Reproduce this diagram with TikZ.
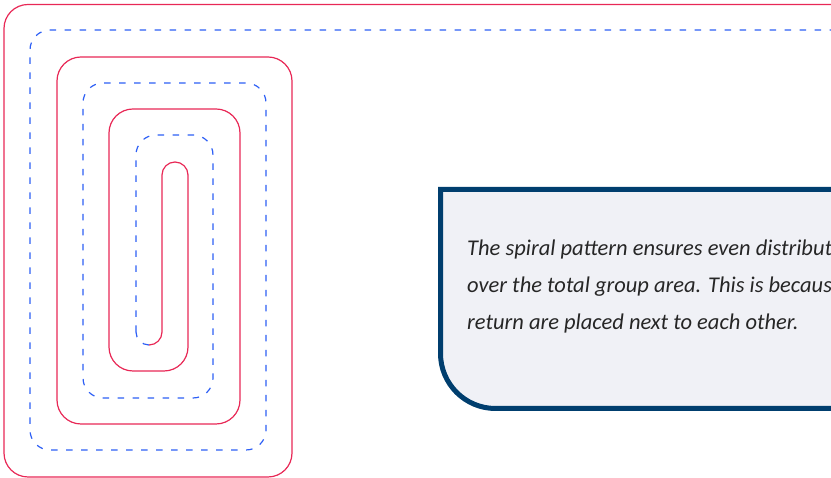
\documentclass[tikz,border=0pt]{standalone}
\usepackage{fontspec}
\setmainfont{Carlito}
\definecolor{supplyred}{RGB}{232,40,86}
\definecolor{returnblue}{RGB}{45,95,245}
\definecolor{boxnavy}{RGB}{0,62,110}
\definecolor{boxfill}{RGB}{240,241,246}
\tikzset{
  supply/.style={draw=supplyred, line width=1.2pt},
  returnline/.style={draw=returnblue, line width=1.2pt, dash pattern=on 6.5pt off 8.5pt},
  notebox/.style={draw=boxnavy, fill=boxfill, line width=5pt},
  notetext/.style={anchor=base west, inner sep=0pt, font=\fontsize{22.5}{27}\selectfont\itshape, text=black!85}
}
\begin{document}
\begin{tikzpicture}[x=1pt,y=1pt]
\useasboundingbox (0,0) rectangle (831,478);
\clip (0,0) rectangle (831,478);
% supply (red) spiral, inward
\coordinate (sIn) at (840,473.5);
\coordinate (sTop) at (188,303);
\coordinate (turn) at (149,133);
\coordinate (rBot) at (136,146);
\coordinate (rOut) at (840,448);
\draw[supply, rounded corners=24pt] (sIn) -- (4,473.5) -- (4,1) -- (292,1) -- (292,421) -- (57,421) -- (57,54) -- (240,54) -- (240,369) -- (109,369) -- (109,107) -- (188,107) -- (sTop);
\draw[supply] (sTop) arc(0:180:13) -- (162,146) arc(0:-90:13);
% return (blue dashed) spiral, outward
\draw[returnline] (turn) arc(-90:-180:13);
\draw[returnline, rounded corners=20pt] (rBot) -- (136,343) -- (213,343) -- (213,80) -- (83,80) -- (83,395) -- (266,395) -- (266,28) -- (30,28) -- (30,448) -- (rOut);
% note box
\draw[notebox] (900,288.5) -- (440.5,288.5) -- (440.5,124.5) arc(180:270:55) -- (900,69.5);
\node[notetext] (l1) at (467,222) {The spiral pattern ensures even distribution};
\node[notetext] (l2) at (467,185) {over the total group area. This is because the};
\node[notetext] (l3) at (467,148) {return are placed next to each other.};
\end{tikzpicture}
\end{document}
